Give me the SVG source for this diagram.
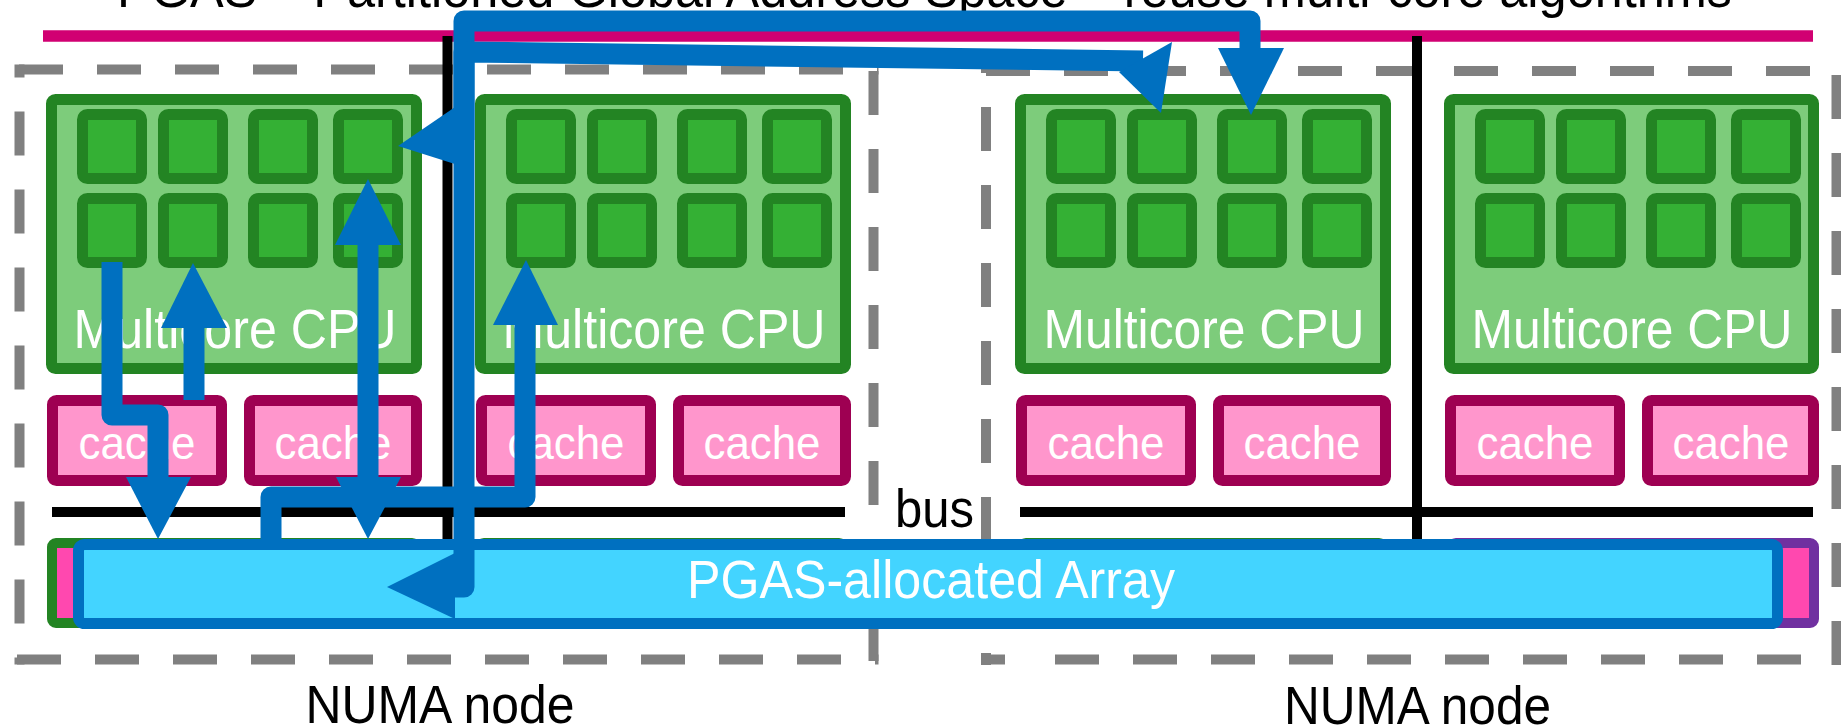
<svg xmlns="http://www.w3.org/2000/svg" width="1841" height="728" viewBox="0 0 1841 728">
  <style>
    text { font-family: "Liberation Sans", Arial, sans-serif; }
    .title { font-size: 54px; fill: #000; }
    .label { font-size: 53px; fill: #000; }
    .cpu-box { fill: #7DCC7B; stroke: #238423; stroke-width: 11; }
    .core { fill: #34B034; stroke: #238423; stroke-width: 11; }
    .cpu-text { font-size: 55px; fill: #fff; text-anchor: middle; }
    .cache-box { fill: #FF96CC; stroke: #9E0052; stroke-width: 11; }
    .cache-text { font-size: 46px; fill: #fff; text-anchor: middle; }
    .mem-green { fill: #FF48AF; stroke: #238423; stroke-width: 10; }
    .mem-purple { fill: #FF48AF; stroke: #7030A0; stroke-width: 10; }
    .numa { stroke: #808080; stroke-width: 10; stroke-dasharray: 44 34; fill: none; }
    .numa-solid { stroke: #808080; stroke-width: 10; fill: none; }
    .wire { stroke: #000; stroke-width: 10; fill: none; }
    .link { fill: none; stroke: #0070C0; stroke-width: 21; stroke-linejoin: round; }
    .head { fill: #0070C0; }
  </style>

  <!-- heading, running off the top edge -->
  <text class="title" x="117" y="7" textLength="1615" lengthAdjust="spacingAndGlyphs">PGAS – Partitioned Global Address Space – reuse multi-core algorithms</text>
  <line x1="43" y1="36" x2="1813" y2="36" stroke="#D10072" stroke-width="11.5"/>

  <!-- NUMA node outlines -->
  <g id="numa-left">
    <line class="numa" x1="19" y1="69.5" x2="878.5" y2="69.5"/>
    <line class="numa" x1="19.5" y1="64.5" x2="19.5" y2="664.5" stroke-dashoffset="31"/>
    <line class="numa" x1="14.5" y1="659.5" x2="878.5" y2="659.5" stroke-dashoffset="75.5"/>
    <line class="numa" x1="873.5" y1="69.5" x2="873.5" y2="664.5" stroke-dashoffset="76.5"/>
  </g>
  <g id="numa-right">
    <line class="numa" x1="986" y1="71" x2="1841.5" y2="71"/>
    <line class="numa" x1="986" y1="66" x2="986" y2="665" stroke-dashoffset="37"/>
    <line class="numa-solid" x1="981" y1="659.5" x2="1005" y2="659.5"/>
    <line class="numa" x1="1055" y1="659.5" x2="1841.5" y2="659.5"/>
    <line class="numa" x1="1836.5" y1="66" x2="1836.5" y2="665" stroke-dashoffset="69"/>
  </g>

  <!-- socket dividers -->
  <g id="dividers">
    <line class="wire" x1="447.5" y1="36" x2="447.5" y2="540"/>
    <line class="wire" x1="1417" y1="36" x2="1417" y2="540"/>
  </g>

  <!-- CPUs -->
  <g id="cpu-1">
    <rect class="cpu-box" x="51.5" y="99.5" width="365" height="269" rx="4"/>
    <rect class="core" x="82.5" y="114.5" width="59" height="64" rx="5"/>
    <rect class="core" x="163.5" y="114.5" width="59" height="64" rx="5"/>
    <rect class="core" x="253.5" y="114.5" width="59" height="64" rx="5"/>
    <rect class="core" x="338.5" y="114.5" width="59" height="64" rx="5"/>
    <rect class="core" x="82.5" y="198.5" width="59" height="64" rx="5"/>
    <rect class="core" x="163.5" y="198.5" width="59" height="64" rx="5"/>
    <rect class="core" x="253.5" y="198.5" width="59" height="64" rx="5"/>
    <rect class="core" x="338.5" y="198.5" width="59" height="64" rx="5"/>
    <text class="cpu-text" x="235" y="348" textLength="323" lengthAdjust="spacingAndGlyphs">Multicore CPU</text>
  </g>
  <g id="cpu-2">
    <rect class="cpu-box" x="480.5" y="99.5" width="365" height="269" rx="4"/>
    <rect class="core" x="511.5" y="114.5" width="59" height="64" rx="5"/>
    <rect class="core" x="592.5" y="114.5" width="59" height="64" rx="5"/>
    <rect class="core" x="682.5" y="114.5" width="59" height="64" rx="5"/>
    <rect class="core" x="767.5" y="114.5" width="59" height="64" rx="5"/>
    <rect class="core" x="511.5" y="198.5" width="59" height="64" rx="5"/>
    <rect class="core" x="592.5" y="198.5" width="59" height="64" rx="5"/>
    <rect class="core" x="682.5" y="198.5" width="59" height="64" rx="5"/>
    <rect class="core" x="767.5" y="198.5" width="59" height="64" rx="5"/>
    <text class="cpu-text" x="664" y="348" textLength="323" lengthAdjust="spacingAndGlyphs">Multicore CPU</text>
  </g>
  <g id="cpu-3">
    <rect class="cpu-box" x="1020.5" y="99.5" width="365" height="269" rx="4"/>
    <rect class="core" x="1051.5" y="114.5" width="59" height="64" rx="5"/>
    <rect class="core" x="1132.5" y="114.5" width="59" height="64" rx="5"/>
    <rect class="core" x="1222.5" y="114.5" width="59" height="64" rx="5"/>
    <rect class="core" x="1307.5" y="114.5" width="59" height="64" rx="5"/>
    <rect class="core" x="1051.5" y="198.5" width="59" height="64" rx="5"/>
    <rect class="core" x="1132.5" y="198.5" width="59" height="64" rx="5"/>
    <rect class="core" x="1222.5" y="198.5" width="59" height="64" rx="5"/>
    <rect class="core" x="1307.5" y="198.5" width="59" height="64" rx="5"/>
    <text class="cpu-text" x="1204" y="348" textLength="321" lengthAdjust="spacingAndGlyphs">Multicore CPU</text>
  </g>
  <g id="cpu-4">
    <rect class="cpu-box" x="1449.5" y="99.5" width="364" height="269" rx="4"/>
    <rect class="core" x="1480.5" y="114.5" width="59" height="64" rx="5"/>
    <rect class="core" x="1561.5" y="114.5" width="59" height="64" rx="5"/>
    <rect class="core" x="1651.5" y="114.5" width="59" height="64" rx="5"/>
    <rect class="core" x="1736.5" y="114.5" width="59" height="64" rx="5"/>
    <rect class="core" x="1480.5" y="198.5" width="59" height="64" rx="5"/>
    <rect class="core" x="1561.5" y="198.5" width="59" height="64" rx="5"/>
    <rect class="core" x="1651.5" y="198.5" width="59" height="64" rx="5"/>
    <rect class="core" x="1736.5" y="198.5" width="59" height="64" rx="5"/>
    <text class="cpu-text" x="1632" y="348" textLength="321" lengthAdjust="spacingAndGlyphs">Multicore CPU</text>
  </g>

  <!-- caches -->
  <g id="cache-1a"><rect class="cache-box" x="52.5" y="400.5" width="169" height="80" rx="4"/><text class="cache-text" x="137" y="459" textLength="117" lengthAdjust="spacingAndGlyphs">cache</text></g>
  <g id="cache-1b"><rect class="cache-box" x="249.5" y="400.5" width="167" height="80" rx="4"/><text class="cache-text" x="333" y="459" textLength="117" lengthAdjust="spacingAndGlyphs">cache</text></g>
  <g id="cache-2a"><rect class="cache-box" x="481.5" y="400.5" width="169" height="80" rx="4"/><text class="cache-text" x="566" y="459" textLength="117" lengthAdjust="spacingAndGlyphs">cache</text></g>
  <g id="cache-2b"><rect class="cache-box" x="678.5" y="400.5" width="167" height="80" rx="4"/><text class="cache-text" x="762" y="459" textLength="117" lengthAdjust="spacingAndGlyphs">cache</text></g>
  <g id="cache-3a"><rect class="cache-box" x="1021.5" y="400.5" width="169" height="80" rx="4"/><text class="cache-text" x="1106" y="459" textLength="117" lengthAdjust="spacingAndGlyphs">cache</text></g>
  <g id="cache-3b"><rect class="cache-box" x="1218.5" y="400.5" width="167" height="80" rx="4"/><text class="cache-text" x="1302" y="459" textLength="117" lengthAdjust="spacingAndGlyphs">cache</text></g>
  <g id="cache-4a"><rect class="cache-box" x="1450.5" y="400.5" width="169" height="80" rx="4"/><text class="cache-text" x="1535" y="459" textLength="117" lengthAdjust="spacingAndGlyphs">cache</text></g>
  <g id="cache-4b"><rect class="cache-box" x="1647.5" y="400.5" width="166" height="80" rx="4"/><text class="cache-text" x="1731" y="459" textLength="117" lengthAdjust="spacingAndGlyphs">cache</text></g>

  <!-- bus -->
  <g id="bus">
    <line class="wire" x1="52" y1="512" x2="845" y2="512"/>
    <line class="wire" x1="1020" y1="512" x2="1813" y2="512"/>
    <text class="label" x="895" y="527" font-size="55" textLength="79" lengthAdjust="spacingAndGlyphs">bus</text>
  </g>

  <!-- local memories behind the array -->
  <g id="memory-1"><rect class="mem-green" x="52" y="543" width="364" height="80" rx="4"/></g>
  <g id="memory-2"><rect class="mem-green" x="480" y="543" width="363" height="80" rx="4"/></g>
  <g id="memory-3"><rect class="mem-green" x="1022" y="543" width="361" height="80" rx="4"/></g>
  <g id="memory-4"><rect class="mem-purple" x="1452" y="543" width="362" height="80" rx="4"/></g>

  <!-- distributed array -->
  <g id="pgas-array">
    <rect x="78.5" y="544.5" width="1699" height="79" rx="6" fill="#43D4FF" stroke="#0070C0" stroke-width="11"/>
    <text x="931" y="598" font-size="53" fill="#fff" text-anchor="middle" textLength="488" lengthAdjust="spacingAndGlyphs">PGAS-allocated Array</text>
  </g>

  <!-- data movement -->
  <g id="connectors">
    <path class="link" d="M112,262 V415 H158 V480"/>
    <polygon class="head" points="126,477 191,477 158,539"/>

    <path class="link" d="M194,400 V326"/>
    <polygon class="head" points="161,328 227,328 193,263"/>

    <path class="link" d="M368,243 V479"/>
    <polygon class="head" points="335,245 401,245 368,179"/>
    <polygon class="head" points="336,477 401,477 368,539"/>

    <path class="link" d="M271,539 V497 H525 V323"/>
    <polygon class="head" points="493,325 558,325 526,260"/>

    <path class="link" d="M452,587 H464 V21 H1250 V50"/>
    <polygon class="head" points="455,553 455,619 387,587"/>
    <polygon class="head" points="1218,48 1284,48 1251,115"/>

    <path class="link" d="M464,140 V52 L1143,61"/>
    <polygon class="head" points="398,146 458,105 458,165"/>
    <polygon class="head" points="1119,72 1172,42 1161,113"/>
  </g>

  <!-- node captions -->
  <text class="label" x="440" y="723" text-anchor="middle" textLength="269" lengthAdjust="spacingAndGlyphs">NUMA node</text>
  <text class="label" x="1417.5" y="724" text-anchor="middle" textLength="267" lengthAdjust="spacingAndGlyphs">NUMA node</text>
</svg>
